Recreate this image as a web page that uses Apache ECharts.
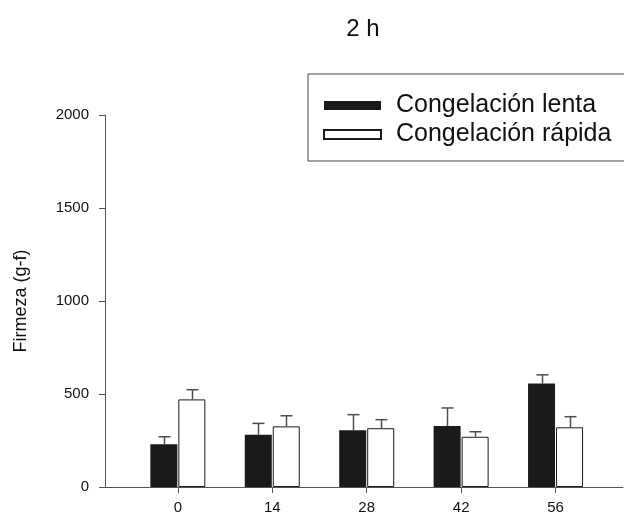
<!DOCTYPE html>
<html>
<head>
<meta charset="utf-8">
<script src="https://cdn.jsdelivr.net/npm/echarts@6/dist/echarts.min.js"></script>
<style>
  html, body { margin: 0; padding: 0; background: #ffffff; }
  #chart { width: 624px; height: 515px; }
</style>
</head>
<body>
<div id="chart"></div>
<script>
// Storage time (days) on the x axis
const days = [0, 14, 28, 42, 56];
const dayTicks = [0, 14, 28, 42, 56];

// Firmness (g-f), mean and standard deviation per freezing method
const lentaMean = [230, 281, 305, 328, 557];
const lentaErr = [40, 61, 84, 97, 46];
const rapidaMean = [471, 326, 316, 270, 321];
const rapidaErr = [52, 57, 46, 27, 57];

const yTicks = [0, 500, 1000, 1500, 2000];

const BAR_W = 27;
const BAR_GAP_PX = 1;
const BAR_OFFSET = (BAR_W + BAR_GAP_PX) / 2;
const FONT = '"Liberation Sans", Arial, sans-serif';

function pairs(xs, ys) { return xs.map((x, i) => [x, ys[i]]); }
function triples(xs, ys, es) { return xs.map((x, i) => [x, ys[i], es[i]]); }

// Upper-only error bar with a short cap, shifted onto its bar
function errorRenderer(shift) {
  return function (params, api) {
    const x = api.value(0), y = api.value(1), e = api.value(2);
    const base = api.coord([x, y]);
    const top = api.coord([x, y + e]);
    const cx = Math.round(base[0] + shift) + 0.5;
    const style = { stroke: '#4d4d4d', lineWidth: 1.5 };
    return {
      type: 'group',
      children: [
        { type: 'line', shape: { x1: cx, y1: base[1], x2: cx, y2: top[1] }, style: style },
        { type: 'line', shape: { x1: cx - 6, y1: top[1], x2: cx + 6, y2: top[1] }, style: style }
      ]
    };
  };
}

const chart = echarts.init(document.getElementById('chart'), null, { renderer: 'canvas' });

chart.setOption({
  animation: false,
  backgroundColor: '#ffffff',
  textStyle: { fontFamily: FONT },
  title: {
    text: '2 h',
    left: 358,
    top: 12,
    textAlign: 'center',
    textStyle: { fontFamily: FONT, fontSize: 24, fontWeight: 'normal', color: '#111111' }
  },
  legend: {
    data: ['Congelación lenta', 'Congelación rápida'],
    orient: 'vertical',
    left: 308,
    top: 74,
    padding: [19, 60, 14, 15],
    itemGap: 4,
    itemWidth: 57,
    itemHeight: 9,
    borderColor: '#444444',
    borderWidth: 1,
    borderRadius: 0,
    icon: 'rect',
    textStyle: { fontFamily: FONT, fontSize: 25, color: '#111111', padding: [0, 0, 0, 10] }
  },
  grid: { left: 105, right: 1, top: 115, bottom: 28, containLabel: false },
  xAxis: {
    type: 'value',
    min: -10.8,
    max: 66,
    splitLine: { show: false },
    axisLine: { show: true, onZero: false, lineStyle: { color: '#555555', width: 1 } },
    axisTick: { show: true, length: 6, inside: false, customValues: dayTicks,
                lineStyle: { color: '#555555' } },
    axisLabel: { customValues: dayTicks, margin: 13, fontSize: 15, color: '#111111',
                 fontFamily: FONT, formatter: (v) => String(v) }
  },
  yAxis: {
    type: 'value',
    min: 0,
    max: 2000,
    interval: 500,
    name: 'Firmeza (g-f)',
    nameLocation: 'middle',
    nameGap: 75,
    nameTextStyle: { fontFamily: FONT, fontSize: 18, color: '#111111' },
    splitLine: { show: false },
    axisLine: { show: true, onZero: false, lineStyle: { color: '#555555', width: 1 } },
    axisTick: { show: true, length: 6, inside: false, lineStyle: { color: '#555555' } },
    axisLabel: { margin: 16, fontSize: 15, color: '#111111', fontFamily: FONT,
                 customValues: yTicks, formatter: (v) => String(v) }
  },
  series: [
    {
      name: 'Congelación lenta',
      type: 'bar',
      data: pairs(days, lentaMean),
      barWidth: BAR_W,
      barGap: (BAR_GAP_PX / BAR_W * 100).toFixed(1) + '%',
      itemStyle: { color: '#1a1a1a', borderColor: '#1a1a1a', borderWidth: 0 },
      z: 2
    },
    {
      name: 'Congelación rápida',
      type: 'bar',
      data: pairs(days, rapidaMean),
      barWidth: BAR_W,
      barGap: (BAR_GAP_PX / BAR_W * 100).toFixed(1) + '%',
      itemStyle: { color: '#ffffff', borderColor: '#1a1a1a', borderWidth: 1 },
      z: 2
    },
    {
      name: 'errLenta',
      type: 'custom',
      data: triples(days, lentaMean, lentaErr),
      renderItem: errorRenderer(-BAR_OFFSET),
      encode: { x: 0, y: 1 },
      z: 3,
      silent: true
    },
    {
      name: 'errRapida',
      type: 'custom',
      data: triples(days, rapidaMean, rapidaErr),
      renderItem: errorRenderer(BAR_OFFSET),
      encode: { x: 0, y: 1 },
      z: 3,
      silent: true
    }
  ]
});
</script>
</body>
</html>
